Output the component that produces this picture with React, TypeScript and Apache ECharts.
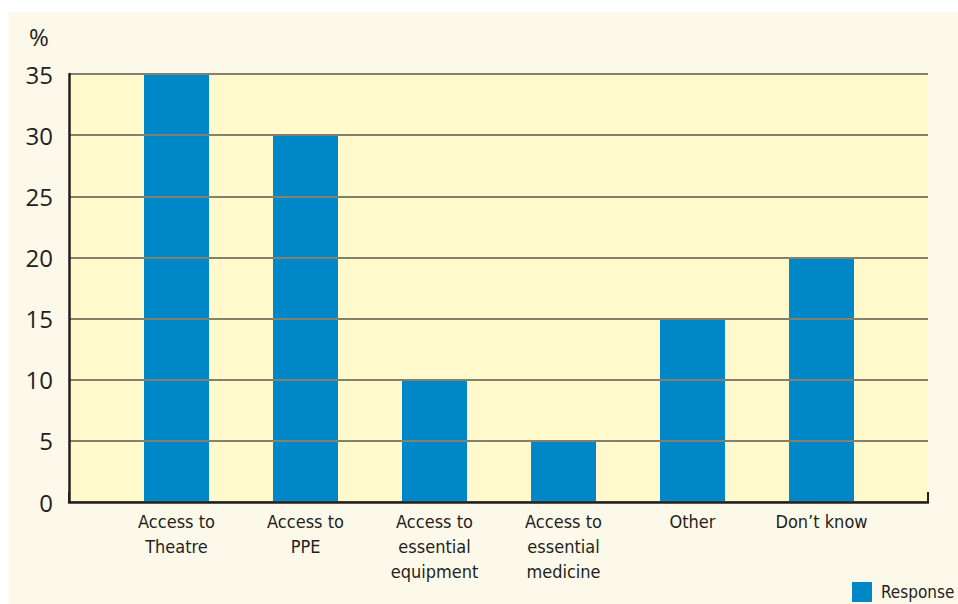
import React, { useEffect, useRef } from "react";
import * as echarts from "echarts";

// Survey answers, share of respondents in percent
const categories = [
  "Access to\nTheatre",
  "Access to\nPPE",
  "Access to\nessential\nequipment",
  "Access to\nessential\nmedicine",
  "Other",
  "Don\u2019t know",
];
const responseValues = [35, 30, 10, 5, 15, 20];
const seriesName = "Response";
const yTicks = { min: 0, max: 35, interval: 5 };

const INK = "#231f20";
const BAR = "#0087c7";
const PLOT_BG = "#fff9cc";
const PAGE_BG = "#fdf9ea";
const GRID_LINE = "#85806b";
const NARROW = "'DejaVu Sans Condensed', 'Liberation Sans Narrow', 'Noto Sans', sans-serif";
const REGULAR = "'Open Sans', 'Noto Sans', sans-serif";

export default function App() {
  const ref = useRef<HTMLDivElement>(null);

  useEffect(() => {
    if (!ref.current) return;
    const chart = echarts.init(ref.current, undefined, { renderer: "svg" });
    chart.setOption({
      animation: false,
      backgroundColor: PAGE_BG,
      grid: [
        {
          left: 60,
          right: 30,
          top: 62,
          bottom: 102,
          show: true,
          backgroundColor: PLOT_BG,
          borderWidth: 0,
        },
        { left: 103, right: 72, top: 62, bottom: 102 },
      ],
      xAxis: [
        {
          gridIndex: 0,
          type: "value",
          min: 0,
          max: 1,
          interval: 1,
          z: 5,
          axisLine: { show: true, lineStyle: { color: INK, width: 2.5 } },
          axisTick: { show: true, inside: true, length: 10, lineStyle: { color: INK, width: 2 } },
          axisLabel: { show: false },
          splitLine: { show: false },
        },
        {
          gridIndex: 1,
          type: "category",
          data: categories,
          axisLine: { show: false },
          axisTick: { show: false },
          axisLabel: {
            color: INK,
            fontFamily: NARROW,
            fontSize: 18,
            lineHeight: 25,
            margin: 7,
            interval: 0,
          },
        },
      ],
      yAxis: [
        {
          gridIndex: 0,
          type: "value",
          min: yTicks.min,
          max: yTicks.max,
          interval: yTicks.interval,
          z: 5,
          axisLine: { show: true, lineStyle: { color: INK, width: 2.5 } },
          axisTick: { show: false },
          axisLabel: {
            color: INK,
            fontFamily: REGULAR,
            fontSize: 24,
            margin: 16,
            padding: [15, 0, 0, 0],
          },
          splitLine: { show: true, lineStyle: { color: GRID_LINE, width: 2 } },
        },
        {
          gridIndex: 1,
          type: "value",
          min: yTicks.min,
          max: yTicks.max,
          interval: yTicks.interval,
          show: false,
        },
      ],
      legend: {
        left: 843,
        top: 570,
        padding: 0,
        icon: "rect",
        itemWidth: 20,
        itemHeight: 20,
        itemGap: 0,
        data: [seriesName],
        textStyle: {
          color: INK,
          fontFamily: NARROW,
          fontSize: 17,
          padding: [0, 0, 0, 4],
        },
      },
      graphic: [
        {
          type: "text",
          left: 20,
          top: 12,
          style: { text: "%", fill: INK, font: `24px ${REGULAR}` },
        },
      ],
      series: [
        {
          name: seriesName,
          type: "bar",
          xAxisIndex: 1,
          yAxisIndex: 1,
          data: responseValues,
          barWidth: 65,
          itemStyle: { color: BAR },
        },
      ],
    });
    return () => chart.dispose();
  }, []);

  return (
    <div
      ref={ref}
      style={{ position: "absolute", left: 9, top: 12, width: 949, height: 592 }}
    />
  );
}
